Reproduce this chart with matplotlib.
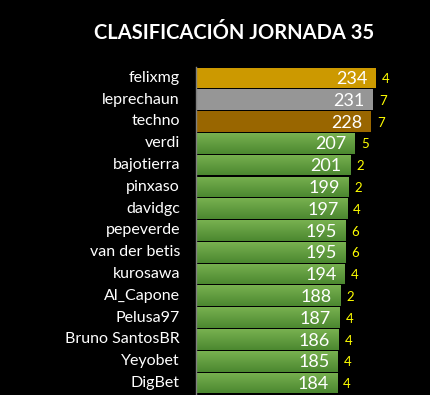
import numpy as np
import matplotlib
matplotlib.use("Agg")
import matplotlib.pyplot as plt
from matplotlib.colors import LinearSegmentedColormap

names = ["felixmg", "leprechaun", "techno", "verdi", "bajotierra", "pinxaso",
         "davidgc", "pepeverde", "van der betis", "kurosawa", "Al_Capone",
         "Pelusa97", "Bruno SantosBR", "Yeyobet", "DigBet"]
points = [234, 231, 228, 207, 201, 199, 197, 195, 195, 194, 188, 187, 186, 185, 184]
jornada = [4, 7, 7, 5, 2, 2, 4, 6, 6, 4, 2, 4, 4, 4, 4]
title = "CLASIFICACIÓN JORNADA 35"

W, H = 430, 395
fig = plt.figure(figsize=(W / 100, H / 100), dpi=100, facecolor="black")
ax = fig.add_axes([196 / W, 0, 234 / W, (395 - 67) / H])
ax.set_facecolor("black")
XMAX = 305

podium = ["#CC9900", "#969696", "#996600"]
green_cmap = LinearSegmentedColormap.from_list("g", ["#78B150", "#4C8830"])
grad = np.linspace(0, 1, 50).reshape(-1, 1)
bh = 0.95
for i, (n, v, j) in enumerate(zip(names, points, jornada)):
    if i < 3:
        ax.barh(i, v, height=bh, color=podium[i], zorder=2)
    else:
        bar = ax.barh(i, v, height=bh, color="none", zorder=2)[0]
        im = ax.imshow(grad, cmap=green_cmap, aspect="auto",
                       extent=[0, v, i + bh / 2, i - bh / 2], zorder=2)
        im.set_clip_path(bar)
    ax.text(v - 11, i + 0.05, str(v), color="white", ha="right", va="center",
            fontsize=13, family="Lato")
    ax.text(v + 8, i + 0.05, str(j), color="#FFFF00", ha="left", va="center",
            fontsize=9.5, family="Lato")
    ax.text(-21, i, n, color="white", ha="right", va="center",
            fontsize=11.5, family="Lato", clip_on=False)

ax.set_xlim(0, XMAX)
ax.set_ylim(14.55, -0.5)
for s in ["top", "right", "bottom"]:
    ax.spines[s].set_visible(False)
ax.spines["left"].set_color("#808080")
ax.spines["left"].set_linewidth(1)
ax.set_xticks([])
ax.set_yticks([])

fig.text(234 / W, 1 - 33 / H, title, color="white", fontsize=14.5,
         fontweight="bold", family="Lato", ha="center", va="center")

fig.savefig("out.png", dpi=100, facecolor="black")
